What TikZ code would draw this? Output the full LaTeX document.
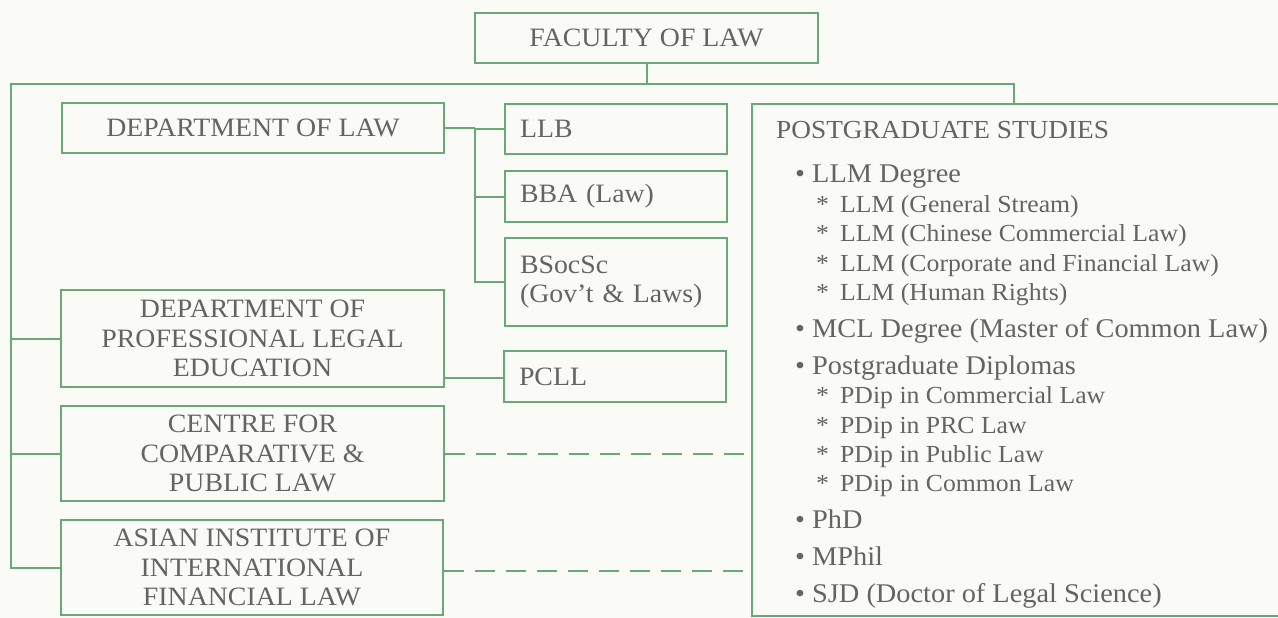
\documentclass[tikz,border=0pt]{standalone}
\usepackage{fontspec}
\setmainfont{Liberation Serif}[FakeStretch=1.05]
\definecolor{lg}{RGB}{106,168,118}
\definecolor{tg}{RGB}{100,100,100}
\definecolor{bgc}{RGB}{250,251,246}
\tikzset{
  box/.style={draw=lg, line width=2pt, text=tg, font=\fontsize{26.5}{29.5}\selectfont, align=center, inner sep=0pt},
  lbox/.style={box, align=left},
  conn/.style={draw=lg, line width=2pt},
  dconn/.style={conn, dash pattern=on 20pt off 11pt},
  ptitle/.style={anchor=base west, inner sep=0pt, text=tg, font=\fontsize{26}{29.5}\selectfont},
  pitem/.style={anchor=base west, inner sep=0pt, text=tg, font=\fontsize{27}{29.5}\selectfont},
  psub/.style={anchor=base west, inner sep=0pt, text=tg, font=\fontsize{24.5}{28}\selectfont}
}
\newcommand{\bul}{\makebox[17pt][l]{\textbullet}}
\newcommand{\subast}{\makebox[24pt][l]{*}}
\begin{document}
\begin{tikzpicture}[x=1pt,y=-1pt]
\fill[bgc] (0,0) rectangle (1278,618);
\useasboundingbox (0,0) rectangle (1278,618);

\node[box, minimum width=343pt, minimum height=50pt] (fac) at (646.5,38) {FACULTY OF LAW};
\node[box, minimum width=382pt, minimum height=50pt] (dlaw) at (253,128) {DEPARTMENT OF LAW};
\node[lbox, minimum width=222pt, minimum height=50pt, text width=192pt] (llb) at (616,129) {LLB};
\node[lbox, minimum width=222pt, minimum height=51pt, text width=192pt] (bba) at (616,196.5) {BBA (Law)};
\node[lbox, minimum width=222pt, minimum height=88pt, text width=192pt] (bsoc) at (616,282) {BSocSc\\(Gov't \& Laws)};
\node[box, minimum width=383pt, minimum height=97pt] (dple) at (252.5,338.5) {DEPARTMENT OF\\PROFESSIONAL LEGAL\\EDUCATION};
\node[lbox, minimum width=222pt, minimum height=51pt, text width=192pt] (pcll) at (615,376.5) {PCLL};
\node[box, minimum width=383pt, minimum height=95pt] (ccpl) at (252.5,453.5) {CENTRE FOR\\COMPARATIVE \&\\PUBLIC LAW};
\node[box, minimum width=382pt, minimum height=95pt] (aiifl) at (252,567.5) {ASIAN INSTITUTE OF\\INTERNATIONAL\\FINANCIAL LAW};
\node[box, minimum width=538pt, minimum height=512pt] (pg) at (1021,360) {};

\node[ptitle] (pgt) at (776,138) {POSTGRADUATE STUDIES};
\node[pitem] (p1) at (795,182) {\bul LLM Degree};
\node[psub] (p1a) at (816,212) {\subast LLM (General Stream)};
\node[psub] (p1b) at (816,241) {\subast LLM (Chinese Commercial Law)};
\node[psub] (p1c) at (816,271) {\subast LLM (Corporate and Financial Law)};
\node[psub] (p1d) at (816,300) {\subast LLM (Human Rights)};
\node[pitem] (p2) at (795,337) {\bul MCL Degree (Master of Common Law)};
\node[pitem] (p3) at (795,374) {\bul Postgraduate Diplomas};
\node[psub] (p3a) at (816,403) {\subast PDip in Commercial Law};
\node[psub] (p3b) at (816,433) {\subast PDip in PRC Law};
\node[psub] (p3c) at (816,462) {\subast PDip in Public Law};
\node[psub] (p3d) at (816,491) {\subast PDip in Common Law};
\node[pitem] (p4) at (795,528) {\bul PhD};
\node[pitem] (p5) at (795,565) {\bul MPhil};
\node[pitem] (p6) at (795,602) {\bul SJD (Doctor of Legal Science)};

\coordinate (j0) at (fac.south |- 0,84);
\coordinate (jl) at (11,84);
\coordinate (jr) at (1014,84);
\coordinate (jd) at (475,129);

\draw[conn] (fac.south) -- (j0);
\draw[conn] (pg.north -| jr) -- (jr) -- (jl) -- (jl |- aiifl.west) -- (aiifl.west);
\draw[conn] (jl |- dple.west) -- (dple.west);
\draw[conn] (jl |- ccpl.west) -- (ccpl.west);

\draw[conn] (dlaw.east) -- (dlaw.east -| jd);
\draw[conn] (jd) -- (llb.west);
\draw[conn] (jd) -- (jd |- bsoc.west) -- (bsoc.west);
\draw[conn] (jd |- bba.west) -- (bba.west);
\draw[conn] (dple.east |- 0,378) -- (pcll.west |- 0,378);

\draw[dconn] (ccpl.east) -- (pg.west |- ccpl.east);
\draw[dconn] (aiifl.east |- 0,571) -- (pg.west |- 0,571);
\end{tikzpicture}
\end{document}
